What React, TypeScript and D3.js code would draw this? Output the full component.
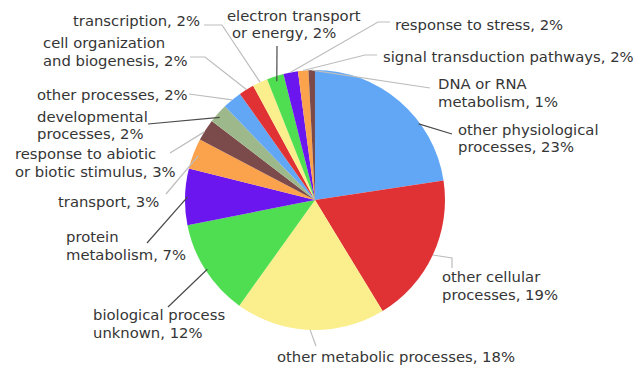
import React from "react";
import * as d3 from "d3";

// ---- data ----
const categories = [
  "other physiological processes",
  "other cellular processes",
  "other metabolic processes",
  "biological process unknown",
  "protein metabolism",
  "transport",
  "response to abiotic or biotic stimulus",
  "developmental processes",
  "other processes",
  "cell organization and biogenesis",
  "transcription",
  "electron transport or energy",
  "response to stress",
  "signal transduction pathways",
  "DNA or RNA metabolism",
];
const shares = [22.6, 18.7, 18.6, 12.0, 7.0, 3.8, 2.7, 2.4, 2.4, 1.9, 1.9, 2.1, 1.8, 1.3, 0.8];
const labelLines = [
  ["other physiological", "processes, 23%"],
  ["other cellular", "processes, 19%"],
  ["other metabolic processes, 18%"],
  ["biological process", "unknown, 12%"],
  ["protein", "metabolism, 7%"],
  ["transport, 3%"],
  ["response to abiotic", "or biotic stimulus, 3%"],
  ["developmental", "processes, 2%"],
  ["other processes, 2%"],
  ["cell organization", "and biogenesis, 2%"],
  ["transcription, 2%"],
  ["electron transport", "or energy, 2%"],
  ["response to stress, 2%"],
  ["signal transduction pathways, 2%"],
  ["DNA or RNA", "metabolism, 1%"],
];

// ---- style / layout ----
const palette = [
  "#62a7f6", "#e03234", "#fbee8d", "#4fde52", "#6b16ef", "#fba24c", "#7b4a4a", "#9db98b",
  "#62a7f6", "#e03234", "#fbee8d", "#4fde52", "#6b16ef", "#fba24c", "#7b4a4a",
];
const W = 635, H = 368;
const CX = 315, CY = 200, R = 130;
const FONT = 14.8;

type Lay = { xs: number[]; ys: number[]; t: number; k: number; pts: [number, number][]; dark: boolean };
const layout: Lay[] = [
  { xs: [458, 458], ys: [135, 152], t: 0.66, k: 0.99, pts: [[452, 134]], dark: true },
  { xs: [442, 442], ys: [282, 300], t: 0.5, k: 1.0, pts: [[452, 258], [452, 268]], dark: false },
  { xs: [277], ys: [362], t: 0.5, k: 1.0, pts: [[316, 346]], dark: false },
  { xs: [93, 93], ys: [320, 338], t: 0.5, k: 0.985, pts: [[168, 307]], dark: true },
  { xs: [66, 66], ys: [242, 260], t: 0.5, k: 0.98, pts: [[147, 243]], dark: true },
  { xs: [58], ys: [207], t: 0.5, k: 0.96, pts: [[166, 194]], dark: false },
  { xs: [15, 15], ys: [159, 177], t: 0.4, k: 1.0, pts: [[170, 153]], dark: false },
  { xs: [37, 37], ys: [122, 139], t: 0.4, k: 0.97, pts: [[148, 124]], dark: true },
  { xs: [37], ys: [100], t: 0.5, k: 1.0, pts: [[189, 94]], dark: false },
  { xs: [43, 43], ys: [48, 66], t: 0.5, k: 1.0, pts: [[205, 57], [190, 57]], dark: false },
  { xs: [73], ys: [26], t: 0.5, k: 1.0, pts: [[222, 25], [204, 25]], dark: false },
  { xs: [227, 232], ys: [21, 38], t: 0.5, k: 0.96, pts: [[277, 46]], dark: true },
  { xs: [395], ys: [30], t: 0.5, k: 1.0, pts: [[378, 22], [390, 22]], dark: false },
  { xs: [383], ys: [62], t: 0.5, k: 1.0, pts: [[365, 55], [377, 55]], dark: false },
  { xs: [438, 438], ys: [89, 107], t: 0.5, k: 1.0, pts: [[430, 88]], dark: false },
];

export default function App() {
  const pie = d3.pie<number>().sort(null).value((d) => d)(shares);
  const arc = d3.arc<d3.PieArcDatum<number>>().innerRadius(0).outerRadius(R);
  const line = d3.line();

  return (
    <svg
      width={W}
      height={H}
      viewBox={`0 0 ${W} ${H}`}
      style={{ position: "absolute", left: 0, top: 0, background: "#fff" }}
      fontFamily="'DejaVu Sans', Verdana, sans-serif"
      fontSize={FONT}
    >
      <rect width={W} height={H} fill="#fff" />
      <g transform={`translate(${CX},${CY})`}>
        {pie.map((p, i) => (
          <path key={categories[i]} d={arc(p) || ""} fill={palette[i]} />
        ))}
      </g>
      {pie.map((p, i) => {
        const L = layout[i];
        const a = p.startAngle + (p.endAngle - p.startAngle) * L.t;
        const sx = CX + Math.sin(a) * R * L.k;
        const sy = CY - Math.cos(a) * R * L.k;
        const pts: [number, number][] = [[sx, sy], ...L.pts];
        return (
          <path
            key={"l" + i}
            d={line(pts) || ""}
            fill="none"
            stroke={L.dark ? "#4a4a4a" : "#bdbdbd"}
            strokeWidth={1.2}
          />
        );
      })}
      {labelLines.map((lines, i) => (
        <text key={"t" + i} fill="#353535">
          {lines.map((s, j) => (
            <tspan key={j} x={layout[i].xs[j]} y={layout[i].ys[j]}>
              {s}
            </tspan>
          ))}
        </text>
      ))}
    </svg>
  );
}
